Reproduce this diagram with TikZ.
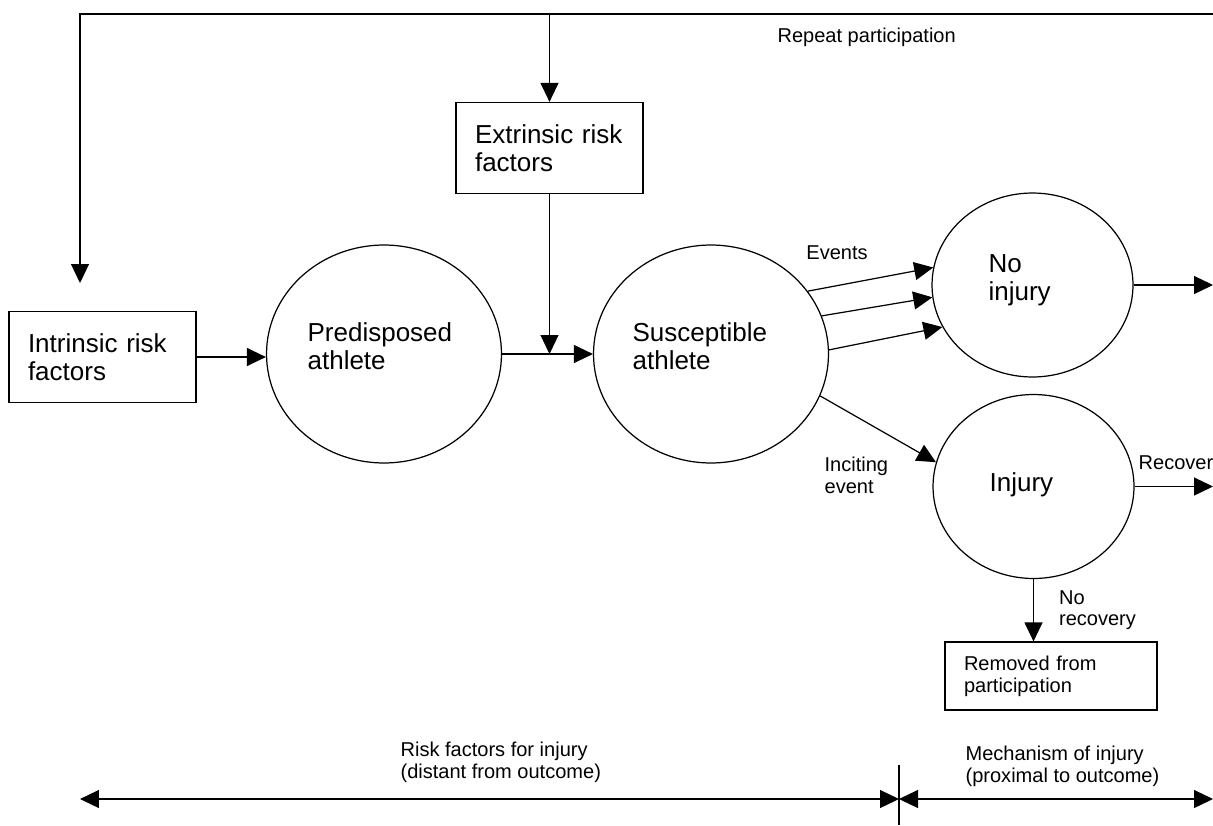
\documentclass[tikz,border=0pt]{standalone}
\usepackage{fontspec}
\setmainfont{Liberation Sans}
\usetikzlibrary{arrows.meta,shapes,positioning}

\begin{document}
\begin{tikzpicture}[x=0.02cm, y=-0.02cm, line width=0.7pt,
 >={Triangle[length=0.38cm, width=0.36cm]},
 every node/.style={inner sep=0pt},
 bigtext/.style={font=\fontsize{14.8}{15.8}\selectfont, align=left},
 smalltext/.style={font=\fontsize{11.4}{12.4}\selectfont, align=left},
 factor/.style={draw, rectangle, inner xsep=0.38cm, text width=2.98cm, minimum height=1.82cm},
 stage/.style={draw, ellipse, minimum width=4.7cm, minimum height=4.36cm},
 outcome/.style={draw, ellipse, minimum width=4.02cm, minimum height=3.68cm}]

 \useasboundingbox (0,0) rectangle (1213,825);

 \node[factor, bigtext] (intr) at (102.5,357) {Intrinsic risk\\factors};
 \node[factor, bigtext] (extr) at (549.5,148) {Extrinsic risk\\factors};
 \node[stage] (pre) at (384,354) {};
 \node[stage] (sus) at (711,354) {};
 \node[outcome] (noinj) at (1032.5,285) {};
 \node[outcome] (inj) at (1033.5,486.5) {};
 \node[factor, smalltext, text width=3.48cm, minimum height=1.36cm] (rem) at (1051,676) {Removed from\\participation};

 \node[bigtext, anchor=west] (pre-t) at (307,346) {Predisposed\\athlete};
 \node[bigtext, anchor=west] (sus-t) at (632,346) {Susceptible\\athlete};
 \node[bigtext, anchor=west] (noinj-t) at (988,280) {No\\injury};
 \node[bigtext, anchor=west] (inj-t) at (989,485) {Injury};

 \node[smalltext, anchor=west] (rep) at (777,37) {Repeat participation};
 \node[smalltext] (ev) at (837,253) {Events};
 \node[smalltext, anchor=west] (inc) at (824,475) {Inciting\\event};
 \node[smalltext, anchor=west] (distant) at (400,762) {Risk factors for injury\\(distant from outcome)};
 \node[smalltext, anchor=west] (proximal) at (965,766) {Mechanism of injury\\(proximal to outcome)};

 \coordinate (edge) at (1213,14);
 \coordinate (back) at (80,14);
 \coordinate (intr-in) at (80,283);
 \coordinate (bl) at (80,799);
 \coordinate (split) at (899,799);
 \coordinate (br) at (1213,799);

 % repeat participation loop
 \draw[->] (edge) -- (back) -- (intr-in);
 \draw[->] (extr.north |- edge) -- (extr);
 \draw[->] (extr) -- (extr |- pre);
 \draw[->] (intr) -- (intr -| pre.west);
 \draw[->] (pre) -- (sus);
 % events
 \draw[->] (sus.33) -- (noinj.170);
 \draw[->] (sus.19) -- (noinj.187);
 \draw[->] (sus.2) -- (noinj.205);
 \draw[->] (sus.-21) -- (inj.166);
 \draw[->] (noinj) -- (noinj -| edge);
 \draw[->] (inj.east) -- node[smalltext, pos=0, anchor=south west, xshift=0.07cm, yshift=0.32cm] {Recover} (inj.east -| edge);
 \draw[->] (inj) -- node[smalltext, right=0.5cm] {No\\recovery} (inj |- rem.north);
 % time axis
 \draw[<->] (bl) -- (split);
 \draw[<->] (split) -- (br);
 \draw (split) ++(0,-34) -- ++(0,60);
\end{tikzpicture}
\end{document}
